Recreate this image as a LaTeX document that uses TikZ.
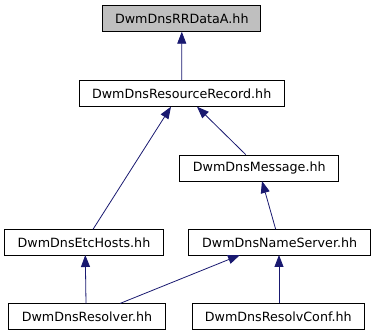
\documentclass[tikz,border=0pt]{standalone}
\usepackage{fontspec}
\setmainfont{DejaVu Sans}
\usetikzlibrary{arrows.meta}
\definecolor{edgeblue}{HTML}{191970}
\definecolor{hlgray}{HTML}{BFBFBF}
\tikzset{
  filebox/.style={draw=black, line width=0.8pt, inner sep=0pt, font=\fontsize{12.7}{15}\selectfont, anchor=center},
  dep/.style={edgeblue, line width=0.8pt, -{Triangle[length=12pt,width=9pt]}},
}
\begin{document}
\begin{tikzpicture}[x=1pt,y=-1pt]
\useasboundingbox (0,0) rectangle (375,336);
\node[filebox, fill=hlgray, minimum width=158pt, minimum height=26pt] (rrdata) at (181.8,18.3) {DwmDnsRRDataA.hh};
\node[filebox, minimum width=205pt, minimum height=26pt] (rr) at (181.7,93.7) {DwmDnsResourceRecord.hh};
\node[filebox, minimum width=159pt, minimum height=26pt] (msg) at (259.3,168) {DwmDnsMessage.hh};
\node[filebox, minimum width=158.6pt, minimum height=25.3pt] (etc) at (84,242.4) {DwmDnsEtcHosts.hh};
\node[filebox, minimum width=182pt, minimum height=25.3pt] (ns) at (279.7,242.4) {DwmDnsNameServer.hh};
\node[filebox, minimum width=156.6pt, minimum height=25.3pt] (res) at (87,316.5) {DwmDnsResolver.hh};
\node[filebox, minimum width=171.3pt, minimum height=25.3pt] (conf) at (278.3,316.5) {DwmDnsResolvConf.hh};
\draw[dep] (rr.north) -- (rrdata.south);
\draw[dep] (etc.north -| 93,0) -- (171,106.7);
\draw[dep] (msg.north -| 245.7,0) -- (197,106.7);
\draw[dep] (ns.north -| 275.7,0) -- (262,181);
\draw[dep] (res.north -| 86,0) -- (85.3,255);
\draw[dep] (res.north -| 120,0) -- (240,255);
\draw[dep] (conf.north -| 279,0) -- (279,255);
\end{tikzpicture}
\end{document}
